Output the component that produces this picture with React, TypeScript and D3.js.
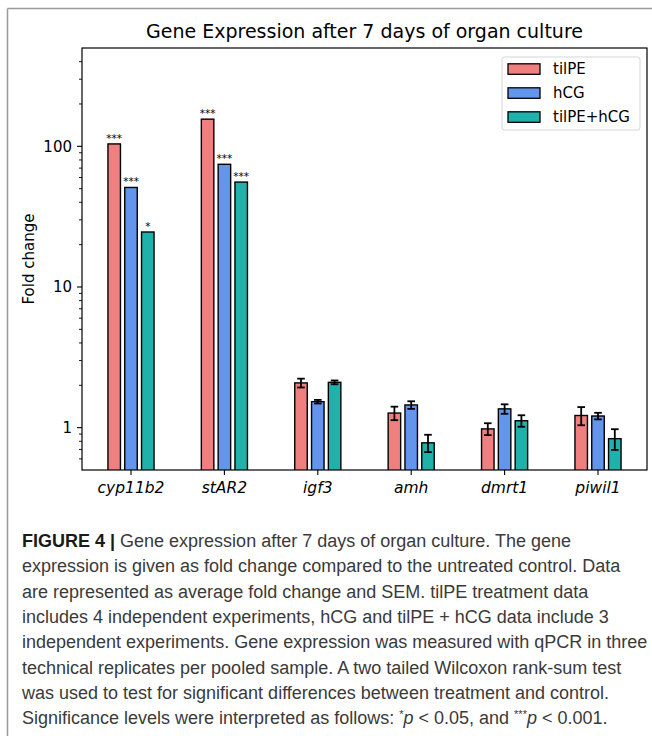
import React from 'react';
import * as d3 from 'd3';

const genes = ['cyp11b2', 'stAR2', 'igf3', 'amh', 'dmrt1', 'piwil1'];
const seriesNames = ['tilPE', 'hCG', 'tilPE+hCG'];
const seriesColors = ['#F08080', '#6495ED', '#20B2AA'];
const tilPE = [104, 156, 2.08, 1.27, 0.98, 1.22];
const hCG = [51, 74.5, 1.53, 1.45, 1.36, 1.21];
const tilPEhCG = [24.6, 55.7, 2.1, 0.78, 1.12, 0.835];
const tilPEErr = [0, 0, 0.15, 0.14, 0.095, 0.18];
const hCGErr = [0, 0, 0.045, 0.09, 0.105, 0.065];
const tilPEhCGErr = [0, 0, 0.065, 0.11, 0.105, 0.14];
const tilPESig = ['***', '***', '', '', '', ''];
const hCGSig = ['***', '***', '', '', '', ''];
const tilPEhCGSig = ['*', '***', '', '', '', ''];
const yTicks = [1, 10, 100];
const yTickLabels = ['1', '10', '100'];
const title = 'Gene Expression after 7 days of organ culture';
const yLabel = 'Fold change';

const captionLines: { t: string; s?: string }[][] = [
  [{ t: 'FIGURE 4 | ', s: 'bold' }, { t: 'Gene expression after 7 days of organ culture. The gene' }],
  [{ t: 'expression is given as fold change compared to the untreated control. Data' }],
  [{ t: 'are represented as average fold change and SEM. tilPE treatment data' }],
  [{ t: 'includes 4 independent experiments, hCG and tilPE + hCG data include 3' }],
  [{ t: 'independent experiments. Gene expression was measured with qPCR in three' }],
  [{ t: 'technical replicates per pooled sample. A two tailed Wilcoxon rank-sum test' }],
  [{ t: 'was used to test for significant differences between treatment and control.' }],
  [
    { t: 'Significance levels were interpreted as follows: ' },
    { t: '*', s: 'sup' },
    { t: 'p', s: 'it' },
    { t: ' < 0.05, and ' },
    { t: '***', s: 'sup' },
    { t: 'p', s: 'it' },
    { t: ' < 0.001.' },
  ],
];

const series = [
  { name: seriesNames[0], color: seriesColors[0], values: tilPE, err: tilPEErr, sig: tilPESig },
  { name: seriesNames[1], color: seriesColors[1], values: hCG, err: hCGErr, sig: hCGSig },
  { name: seriesNames[2], color: seriesColors[2], values: tilPEhCG, err: tilPEhCGErr, sig: tilPEhCGSig },
];

const W = 652;
const H = 736;
const left = 82;
const right = 647;
const top = 48;
const bottom = 470;
const dej = 'DejaVu Sans';

export default function App() {
  const y = d3.scaleLog().domain([0.5, 500]).range([bottom, top]);
  const x = d3.scalePoint<string>().domain(genes).range([131, 598]);
  const off = 16.8;
  const bw = 12.5;
  const minor: number[] = [];
  [0.1, 1, 10, 100].forEach((d) => {
    for (let k = 2; k <= 9; k++) {
      const v = d * k;
      if (v > 0.5 && v < 500 && !yTicks.includes(v)) minor.push(v);
    }
  });

  return (
    <svg width={W} height={H} style={{ position: 'absolute', left: 0, top: 0, background: '#fff' }}>
      <rect x={0} y={0} width={W} height={H} fill="#fff" />
      <line x1={7.5} y1={8.5} x2={W} y2={8.5} stroke="#9a9a9a" strokeWidth={1.5} />
      <line x1={7.5} y1={8.5} x2={7.5} y2={H} stroke="#9a9a9a" strokeWidth={1.5} />

      <text x={(left + right) / 2} y={38} textAnchor="middle" fontFamily={dej} fontSize={19} fill="#000">
        {title}
      </text>

      <defs>
        <clipPath id="plotclip">
          <rect x={left} y={top} width={right - left} height={bottom - top} />
        </clipPath>
      </defs>

      <g clipPath="url(#plotclip)">
        {series.map((s, j) =>
          genes.map((g, i) => {
            const cx = (x(g) as number) + (j - 1) * off;
            const yv = y(s.values[i]);
            return (
              <rect
                key={`${j}-${i}`}
                x={cx - bw / 2}
                y={yv}
                width={bw}
                height={bottom + 5 - yv}
                fill={s.color}
                stroke="#000"
                strokeWidth={1.4}
              />
            );
          })
        )}
      </g>

      {series.map((s, j) =>
        genes.map((g, i) => {
          if (!s.err[i]) return null;
          const cx = (x(g) as number) + (j - 1) * off;
          const y1 = y(s.values[i] + s.err[i]);
          const y2 = y(s.values[i] - s.err[i]);
          return (
            <g key={`e${j}-${i}`} stroke="#000" strokeWidth={1.8}>
              <line x1={cx} x2={cx} y1={y1} y2={y2} />
              <line x1={cx - 3.8} x2={cx + 3.8} y1={y1} y2={y1} />
              <line x1={cx - 3.8} x2={cx + 3.8} y1={y2} y2={y2} />
            </g>
          );
        })
      )}

      {series.map((s, j) =>
        genes.map((g, i) => {
          if (!s.sig[i]) return null;
          const cx = (x(g) as number) + (j - 1) * off;
          return (
            <text key={`s${j}-${i}`} x={cx} y={y(s.values[i]) - 2} textAnchor="middle" fontFamily={dej} fontSize={10.5} fill="#000">
              {s.sig[i]}
            </text>
          );
        })
      )}

      <rect x={left} y={top} width={right - left} height={bottom - top} fill="none" stroke="#000" strokeWidth={1.2} />

      {yTicks.map((t, k) => (
        <g key={`yt${k}`}>
          <line x1={left - 5} x2={left} y1={y(t)} y2={y(t)} stroke="#000" strokeWidth={1.1} />
          <text x={left - 10} y={y(t) + 5.3} textAnchor="end" fontFamily={dej} fontSize={15} fill="#000">
            {yTickLabels[k]}
          </text>
        </g>
      ))}
      {minor.map((t, k) => (
        <line key={`m${k}`} x1={left - 3} x2={left} y1={y(t)} y2={y(t)} stroke="#000" strokeWidth={0.9} />
      ))}
      <text
        transform={`translate(${34},${(top + bottom) / 2}) rotate(-90)`}
        textAnchor="middle"
        fontFamily={dej}
        fontSize={15}
        fill="#000"
      >
        {yLabel}
      </text>

      {genes.map((g) => (
        <g key={`xt${g}`}>
          <line x1={x(g)} x2={x(g)} y1={bottom} y2={bottom + 5} stroke="#000" strokeWidth={1.1} />
          <text x={x(g)} y={bottom + 23} textAnchor="middle" fontFamily={dej} fontStyle="italic" fontSize={15.5} fill="#000">
            {g}
          </text>
        </g>
      ))}

      <rect x={502} y={57} width={138} height={73} rx={2.5} fill="#fff" fillOpacity={0.8} stroke="#d5d5d5" strokeWidth={1} />
      {series.map((s, j) => {
        const cy = 69 + j * 24;
        return (
          <g key={`l${j}`}>
            <rect x={508} y={cy - 5.2} width={32} height={10.5} fill={s.color} stroke="#000" strokeWidth={1.3} />
            <text x={553} y={cy + 5.3} fontFamily={dej} fontSize={15} fill="#000">
              {s.name}
            </text>
          </g>
        );
      })}

      {captionLines.map((line, li) => (
        <text key={`c${li}`} x={22} y={547 + li * 25.3} fontFamily="Liberation Sans, Arial, sans-serif" fontSize={18} fill="#3a3a3a">
          {line.map((sg, si) => {
            const prev = line[si - 1];
            const dy = prev && prev.s === 'sup' ? 6 : 0;
            if (sg.s === 'bold')
              return (
                <tspan key={si} fontWeight="bold" fill="#1a1a1a">
                  {sg.t}
                </tspan>
              );
            if (sg.s === 'sup')
              return (
                <tspan key={si} fontSize={11} dy={-6}>
                  {sg.t}
                </tspan>
              );
            return (
              <tspan key={si} dy={dy} fontStyle={sg.s === 'it' ? 'italic' : undefined}>
                {sg.t}
              </tspan>
            );
          })}
        </text>
      ))}
    </svg>
  );
}
